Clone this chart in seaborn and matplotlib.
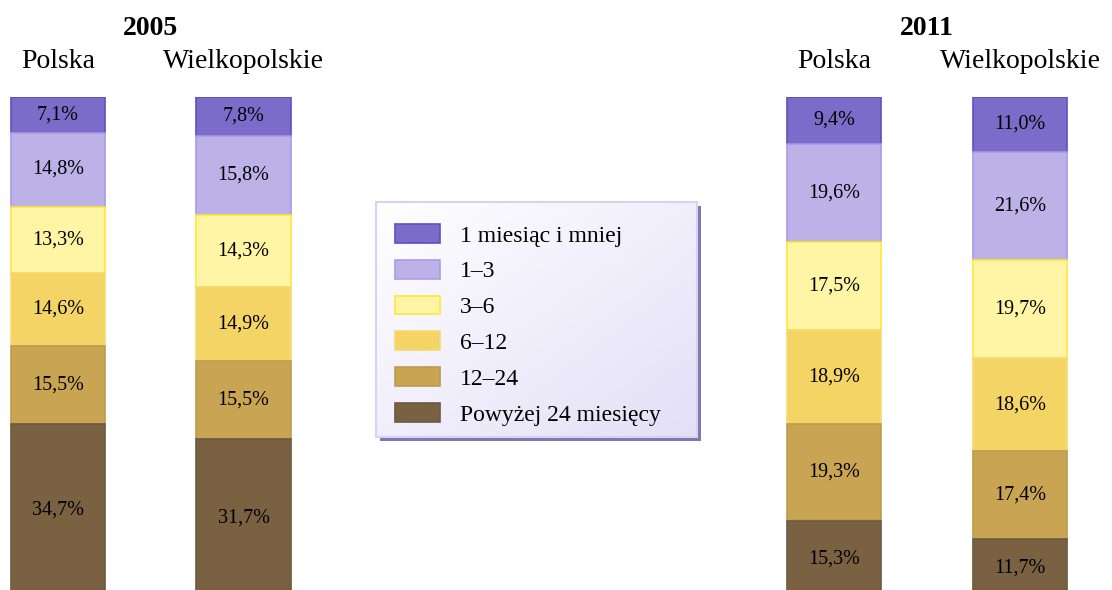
import matplotlib
matplotlib.use("Agg")
import matplotlib.pyplot as plt
import matplotlib.patches as mpatches
import numpy as np
import seaborn as sns

sns.set_style("white")
plt.rcParams['font.family'] = ['Liberation Serif', 'DejaVu Serif']
plt.rcParams['text.color'] = 'black'

# data (shares of unemployed by duration, %)
regions = ["Polska", "Wielkopolskie"]
years = ["2005", "2011"]
durations = ["1 miesiąc i mniej", "1–3", "3–6", "6–12", "12–24", "Powyżej 24 miesięcy"]
share_2005 = {
    "Polska":        [7.1, 14.8, 13.3, 14.6, 15.5, 34.7],
    "Wielkopolskie": [7.8, 15.8, 14.3, 14.9, 15.5, 31.7],
}
share_2011 = {
    "Polska":        [9.4, 19.6, 17.5, 18.9, 19.3, 15.3],
    "Wielkopolskie": [11.0, 21.6, 19.7, 18.6, 17.4, 11.7],
}

fills = ["#7A6CC8", "#BCB2E8", "#FFF5A5", "#F4D465", "#C9A553", "#7A6141"]
edges = ["#5F4FC2", "#A89CEA", "#FFE83A", "#F6DA72", "#BD9C4E", "#6B5A45"]

W, H = 1112, 590
fig = plt.figure(figsize=(W / 100, H / 100), dpi=100)


def px_axes(left, top, width, height):
    return fig.add_axes([left / W, 1 - (top + height) / H, width / W, height / H])


def stacked(ax, shares, year):
    table = np.array([shares[r] for r in regions])  # regions x durations
    bottoms = np.zeros(len(regions))
    handles = []
    for i, name in enumerate(durations):
        vals = table[:, i]
        sns.barplot(x=regions, y=vals, bottom=bottoms, ax=ax, color=fills[i],
                    saturation=1, width=0.507, errorbar=None,
                    edgecolor=edges[i], linewidth=1.2)
        cont = ax.containers[-1]
        handles.append(cont.patches[0])
        ax.bar_label(cont, labels=[f"{v:.1f}%".replace(".", ",") for v in vals],
                     label_type="center", fontsize=14.5, color="black")
        bottoms = bottoms + vals
    ax.set_xlim(-0.27, 1.27)
    ax.set_ylim(100, 0)
    ax.axis("off")
    for k, r in enumerate(regions):
        ax.text(k, -5.8, r, ha="center", va="baseline", fontsize=20, clip_on=False)
    ax.text(0.5, -12.4, year, ha="center", va="baseline", fontsize=20,
            fontweight="bold", clip_on=False)
    return handles


ax05 = px_axes(7.9, 97, 285.7, 500)
handles = stacked(ax05, share_2005, years[0])
ax11 = px_axes(783.8, 97, 286.4, 500)
stacked(ax11, share_2011, years[1])

# legend box with gradient and shadow
lx, ly, lw, lh = 376, 202, 321, 235
shadow = mpatches.Rectangle(((lx + 4) / W, 1 - (ly + lh + 4) / H), lw / W, lh / H,
                            transform=fig.transFigure, facecolor="#7C78B2",
                            edgecolor="none", zorder=1.5)
fig.add_artist(shadow)
lax = px_axes(lx, ly, lw, lh)
lax.set_zorder(2)
gx, gy = np.meshgrid(np.linspace(0, 1, 200), np.linspace(0, 1, 200))
t = (gx + gy) / 2
c0 = np.array([1.0, 1.0, 1.0])
c1 = np.array([0xE3, 0xDF, 0xF7]) / 255
grad = c0[None, None, :] * (1 - t[..., None]) + c1[None, None, :] * t[..., None]
lax.imshow(grad, aspect="auto", extent=[0, 1, 1, 0])
lax.set_xticks([])
lax.set_yticks([])
for s in lax.spines.values():
    s.set_color("#D6D2F2")
    s.set_linewidth(1.5)

leg = fig.legend(handles, durations, loc="upper left",
                 bbox_to_anchor=(395 / W, 1 - 224 / H), bbox_transform=fig.transFigure,
                 frameon=False, borderpad=0, borderaxespad=0, fontsize=17,
                 handlelength=1.9, handleheight=0.85, handletextpad=0.85,
                 labelspacing=0.56)
leg.set_zorder(5)

fig.savefig("out.png", dpi=100)
